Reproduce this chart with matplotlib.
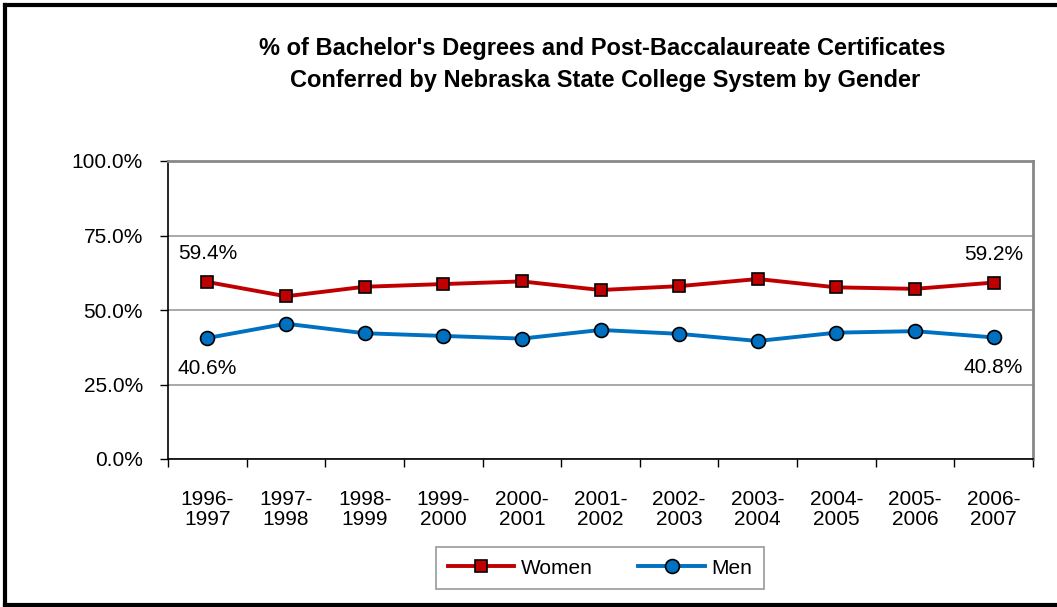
import numpy as np
import matplotlib.pyplot as plt
from matplotlib.lines import Line2D

# 데이터
years = ["1996-\n1997", "1997-\n1998", "1998-\n1999", "1999-\n2000", "2000-\n2001",
         "2001-\n2002", "2002-\n2003", "2003-\n2004", "2004-\n2005", "2005-\n2006",
         "2006-\n2007"]
women = [59.4, 54.6, 57.8, 58.7, 59.6, 56.7, 58.0, 60.4, 57.6, 57.1, 59.2]
men = [40.6, 45.4, 42.2, 41.3, 40.4, 43.3, 42.0, 39.6, 42.4, 42.9, 40.8]
yticks = [0, 25, 50, 75, 100]

plt.rcParams['font.family'] = ['Liberation Sans', 'DejaVu Sans']

fig = plt.figure(figsize=(10.57, 6.07), dpi=100)
ax = fig.add_axes([168 / 1057, 1 - 459 / 607, (1033 - 168) / 1057, (459 - 161) / 607])

x = np.arange(len(years))
ax.plot(x, women, color='#C00000', lw=2.8, marker='s', ms=8.5,
        mfc='#C00000', mec='black', mew=1.2, label='Women', zorder=3)
ax.plot(x, men, color='#0070C0', lw=2.8, marker='o', ms=10,
        mfc='#0070C0', mec='black', mew=1.2, label='Men', zorder=3)

# 첫/마지막 값 라벨
for i in [0, len(x) - 1]:
    ax.annotate(f"{women[i]:.1f}%", (x[i], women[i]), xytext=(0, 28),
                textcoords='offset pixels', ha='center', va='center', fontsize=15)
    ax.annotate(f"{men[i]:.1f}%", (x[i], men[i]), xytext=(0, -30),
                textcoords='offset pixels', ha='center', va='center', fontsize=15)

ax.set_xlim(-0.5, len(x) - 0.5)
ax.set_ylim(0, 100)
ax.set_yticks(yticks)
ax.set_yticklabels([f"{v:.1f}%" for v in yticks], fontsize=15)
ax.set_xticks(np.arange(len(x) + 1) - 0.5)
ax.set_xticklabels([])
ax.set_xticks(x, minor=True)
ax.set_xticklabels(years, minor=True, fontsize=15, linespacing=1.08)
ax.tick_params(axis='x', which='minor', length=0, pad=22)
ax.tick_params(axis='x', which='major', length=6, direction='out', width=1)
ax.tick_params(axis='y', length=6, direction='out', width=1, pad=12)

ax.grid(axis='y', color='#999999', lw=1.2)
ax.set_axisbelow(True)
for s in ['top', 'right']:
    ax.spines[s].set_color('#888888')
    ax.spines[s].set_linewidth(2)
for s in ['left', 'bottom']:
    ax.spines[s].set_color('black')
    ax.spines[s].set_linewidth(1.2)

fig.text(602 / 1057, 1 - 48 / 607, "% of Bachelor's Degrees and Post-Baccalaureate Certificates",
         ha='center', va='center', fontsize=17, fontweight='bold')
fig.text(605 / 1057, 1 - 80 / 607, "Conferred by Nebraska State College System by Gender",
         ha='center', va='center', fontsize=17, fontweight='bold')

leg = fig.legend(handles=ax.get_lines(), loc='center', bbox_to_anchor=(600 / 1057, 1 - 568 / 607),
                 ncol=2, fontsize=15, frameon=True, fancybox=False, edgecolor='#808080',
                 handlelength=3.2, handletextpad=0.3, columnspacing=2.2, borderpad=0.55)
leg.get_frame().set_linewidth(1.2)

# 바깥 테두리
fig.add_artist(Line2D([5 / 1057, 5 / 1057], [1 - 5 / 607, 1 - 605 / 607], color='black', lw=3,
                      transform=fig.transFigure))
fig.add_artist(Line2D([5 / 1057, 1], [1 - 5 / 607, 1 - 5 / 607], color='black', lw=3,
                      transform=fig.transFigure))
fig.add_artist(Line2D([5 / 1057, 1], [1 - 605 / 607, 1 - 605 / 607], color='black', lw=3,
                      transform=fig.transFigure))

plt.savefig("out.png", dpi=100)
